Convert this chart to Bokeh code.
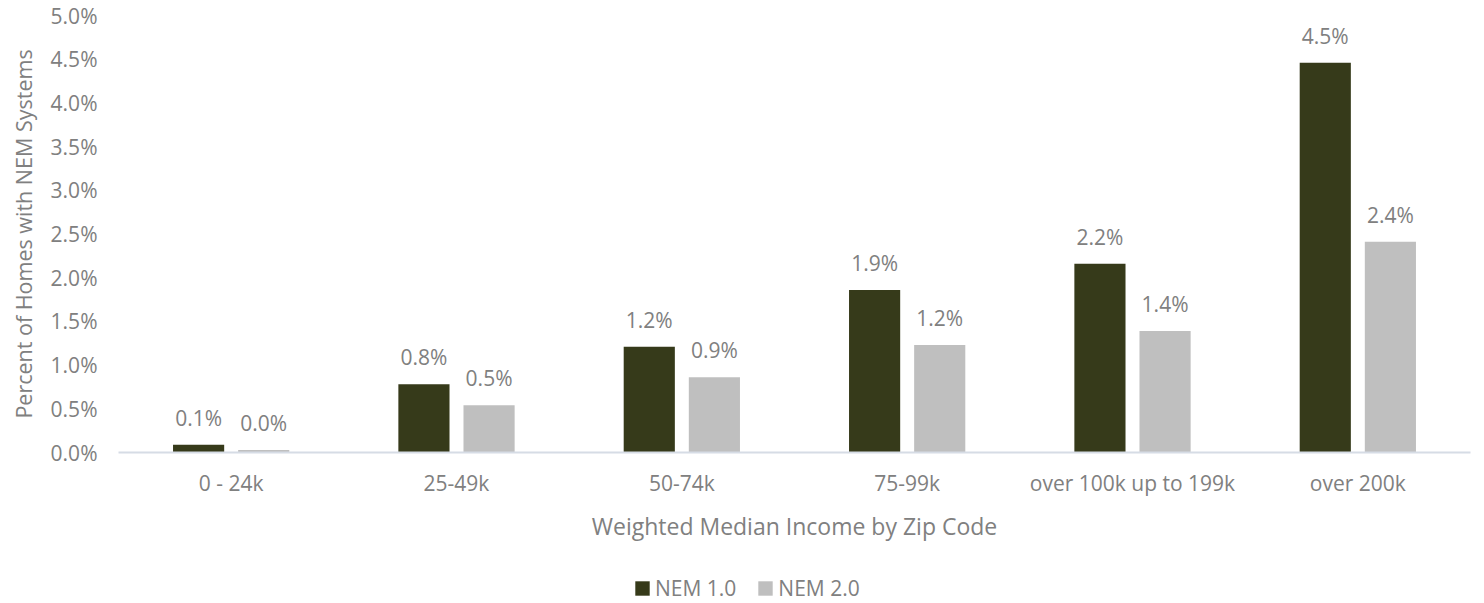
from bokeh.plotting import figure
from bokeh.layouts import column
from bokeh.models import (ColumnDataSource, FactorRange, Range1d, FixedTicker,
                          PrintfTickFormatter, Legend, LegendItem)
from bokeh.transform import dodge
from bokeh.core.properties import value
from bokeh.embed import file_html
from bokeh.resources import INLINE

# Share of homes with net-metered systems, by income band (percent)
income_bands = ["0 - 24k", "25-49k", "50-74k", "75-99k", "over 100k up to 199k", "over 200k"]
nem1_pct = [0.09, 0.78, 1.21, 1.86, 2.16, 4.46]
nem2_pct = [0.03, 0.54, 0.86, 1.23, 1.39, 2.41]
series_names = ["NEM 1.0", "NEM 2.0"]
y_ticks = [0.0, 0.5, 1.0, 1.5, 2.0, 2.5, 3.0, 3.5, 4.0, 4.5, 5.0]

FONT = "Open Sans"
TEXT_COLOR = "#808080"
DARK = "#363a1a"
LIGHT = "#bfbfbf"
series_colors = [DARK, LIGHT]
series_cols = ["nem1", "nem2"]

source = ColumnDataSource(data=dict(
    band=income_bands,
    nem1=nem1_pct,
    nem2=nem2_pct,
    nem1_label=["%.1f%%" % v for v in nem1_pct],
    nem2_label=["%.1f%%" % v for v in nem2_pct],
))

p = figure(
    width=1484, height=560,
    x_range=FactorRange(*income_bands),
    y_range=Range1d(0, 5),
    output_backend="svg", toolbar_location=None,
    min_border_left=118, min_border_right=14,
    min_border_top=15, min_border_bottom=108,
)
p.outline_line_color = None
p.xgrid.grid_line_color = None
p.ygrid.grid_line_color = None
p.background_fill_color = "white"
p.border_fill_color = "white"

bar_w = 0.227
offset = 0.1445

p.vbar(x=dodge("band", -offset, range=p.x_range), top="nem1", width=bar_w,
       source=source, fill_color=DARK, line_color=None)
p.vbar(x=dodge("band", offset, range=p.x_range), top="nem2", width=bar_w,
       source=source, fill_color=LIGHT, line_color=None)

# value labels above each bar
for col, lab, off in (("nem1", "nem1_label", -offset), ("nem2", "nem2_label", offset)):
    p.text(x=dodge("band", off, range=p.x_range), y=col, text=lab, source=source,
           text_align="center", text_baseline="alphabetic", y_offset=-27,
           text_font=value(FONT), text_font_size="21px", text_color=TEXT_COLOR)

# y axis
yax = p.yaxis[0]
yax.ticker = FixedTicker(ticks=y_ticks)
yax.formatter = PrintfTickFormatter(format="%.1f%%")
yax.axis_line_color = None
yax.major_tick_line_color = None
yax.minor_tick_line_color = None
yax.major_tick_out = 0
yax.major_label_standoff = 21
yax.major_label_text_font = FONT
yax.major_label_text_font_size = "21px"
yax.major_label_text_color = TEXT_COLOR
yax.axis_label = "Percent of Homes with NEM Systems"
yax.axis_label_text_font = FONT
yax.axis_label_text_font_size = "21.5px"
yax.axis_label_text_font_style = "normal"
yax.axis_label_text_color = TEXT_COLOR
yax.axis_label_standoff = 10

# x axis
xax = p.xaxis[0]
xax.axis_line_color = "#d6dce5"
xax.axis_line_width = 2
xax.major_tick_line_color = None
xax.minor_tick_line_color = None
xax.major_tick_out = 0
xax.major_label_standoff = 16
xax.major_label_text_font = FONT
xax.major_label_text_font_size = "21px"
xax.major_label_text_color = TEXT_COLOR
xax.axis_label = "Weighted Median Income by Zip Code"
xax.axis_label_text_font = FONT
xax.axis_label_text_font_size = "23px"
xax.axis_label_text_font_style = "normal"
xax.axis_label_text_color = TEXT_COLOR
xax.axis_label_standoff = 10

# legend strip underneath the chart (same side borders as the chart)
leg_fig = figure(
    width=1484, height=43,
    x_range=FactorRange(*income_bands), y_range=Range1d(0, 5),
    x_axis_location=None, y_axis_location=None,
    output_backend="svg", toolbar_location=None,
    min_border_left=118, min_border_right=14,
    min_border_top=0, min_border_bottom=0,
)
leg_fig.outline_line_color = None
leg_fig.xgrid.grid_line_color = None
leg_fig.ygrid.grid_line_color = None
leg_fig.border_fill_color = "white"

# hidden series renderers that only supply the legend swatches
swatches = [leg_fig.vbar(x="band", top=c, width=bar_w, source=source,
                         fill_color=color, line_color=None, visible=False)
            for c, color in zip(series_cols, series_colors)]

legend = Legend(
    items=[LegendItem(label=name, renderers=[r]) for name, r in zip(series_names, swatches)],
    location=(515, 1), orientation="horizontal",
    glyph_width=18, glyph_height=18, label_standoff=4, spacing=20,
    padding=0, margin=0, border_line_color=None, background_fill_alpha=0,
    label_text_font=FONT, label_text_font_size="21px", label_text_color=TEXT_COLOR,
)
leg_fig.add_layout(legend)

open("out.html", "w").write(file_html(column(p, leg_fig, spacing=0), INLINE))
